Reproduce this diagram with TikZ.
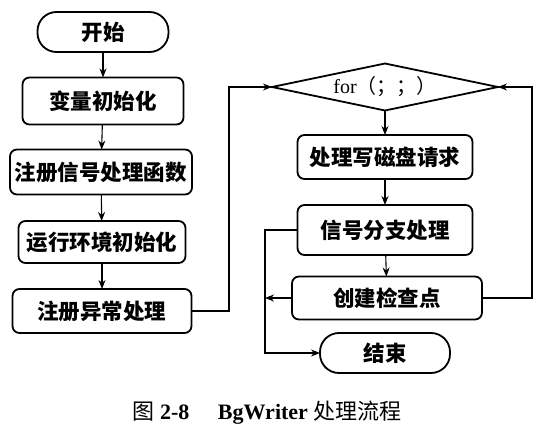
\documentclass[tikz,border=0pt]{standalone}
\usepackage{fontspec}
\setmainfont{Liberation Serif}
\newfontfamily\cjk{Noto Sans CJK SC}
\usetikzlibrary{shapes.geometric,arrows.meta}
\begin{document}
\begin{tikzpicture}[x=1pt,y=-1pt,
  every node/.style={inner sep=0pt,outer sep=0pt},
  proc/.style={draw,line width=1.8pt,rounded corners=7pt,font=\cjk\bfseries\fontsize{21.5}{25}\selectfont},
  termbox/.style={proc,rounded corners=19pt},
  dec/.style={draw,line width=1.8pt,diamond,aspect=4.8},
  conn/.style={line width=1.1pt},
  arr/.style={conn,-{Stealth[length=9pt,width=7pt]}},
  capt/.style={font=\fontsize{22}{26}\selectfont}
]
\useasboundingbox (0,0) rectangle (560,444);
% left column
\node[termbox,minimum width=131pt,minimum height=40pt] (start) at (103,32) {开始};
\node[proc,minimum width=161pt,minimum height=47pt] (a1) at (103,101) {变量初始化};
\node[proc,minimum width=182pt,minimum height=45pt] (a2) at (101,172) {注册信号处理函数};
\node[proc,minimum width=167pt,minimum height=42pt] (a3) at (102,242) {运行环境初始化};
\node[proc,minimum width=179pt,minimum height=44pt] (a4) at (102,311) {注册异常处理};
% right column
\node[dec,minimum width=226pt,minimum height=47pt] (dia) at (385,87) {\fontsize{20}{22}\selectfont for{\cjk （；；）}};
\node[proc,minimum width=175pt,minimum height=44pt] (b1) at (385,157) {处理写磁盘请求};
\node[proc,minimum width=175pt,minimum height=50pt] (b2) at (385,230) {信号分支处理};
\node[proc,minimum width=190pt,minimum height=43pt] (b3) at (387,298) {创建检查点};
\node[termbox,minimum width=130pt,minimum height=40pt] (end) at (385,353) {结束};
\coordinate (lx) at (265,0);
\coordinate (mx) at (229,0);
\coordinate (rx) at (532,0);
% connectors
\draw[arr] (start) -- (a1);
\draw[arr] (a1) -- (a2);
\draw[arr] (a2) -- (a3);
\draw[arr] (a3) -- (a4);
\draw[arr] (a4.east) -- (a4.east -| mx) |- (dia.west);
\draw[arr] (dia) -- (b1);
\draw[arr] (b1) -- (b2);
\draw[arr] (b2) -- (b3);
\draw[arr] (b3.east) -- (b3.east -| rx) |- (dia.east);
\draw[arr] (b2.west) -- (b2.west -| lx) |- (end.west);
\draw[arr] (b3.west) -- (b3.west -| lx);
% caption
\node[capt] (cap) at (267,413) {{\cjk 图} \textbf{2-8}\hspace{1.3em}\textbf{BgWriter} {\cjk 处理流程}};
\end{tikzpicture}
\end{document}
